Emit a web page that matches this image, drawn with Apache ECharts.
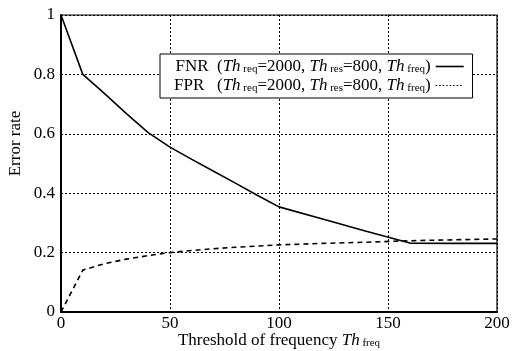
<!DOCTYPE html>
<html>
<head>
<meta charset="utf-8">
<script src="https://cdn.jsdelivr.net/npm/echarts@6/dist/echarts.min.js"></script>
<style>
  html, body { margin: 0; padding: 0; background: #fff; }
  #chart { width: 521px; height: 351px; }
</style>
</head>
<body>
<div id="chart"></div>
<script>
// threshold of frequency (x) and error rates
const thresholds = [0, 10, 20, 30, 40, 50, 60, 70, 80, 90, 100, 120, 140, 160, 180, 200];
const fnrValues = [1.0, 0.8, 0.735, 0.668, 0.604, 0.555, 0.514, 0.474, 0.434, 0.393, 0.354, 0.313, 0.272, 0.232, 0.231, 0.231];
const fprValues = [0.0, 0.141, 0.163, 0.178, 0.19, 0.2, 0.207, 0.213, 0.218, 0.222, 0.226, 0.231, 0.235, 0.24, 0.243, 0.246];
const yTicks = [0, 0.2, 0.4, 0.6, 0.8, 1];

const FONT = '"Liberation Serif", "DejaVu Serif", serif';
const rich = {
  i: { fontFamily: FONT, fontStyle: 'italic', fontSize: 17, color: '#000' },
  s: { fontFamily: FONT, fontSize: 11, color: '#000', padding: [6, 0, 0, 0] },
  n: { fontFamily: FONT, fontSize: 17, color: '#000' }
};

const legendName = (tag) =>
  `{n|${tag}  (}{i|Th}{s| req}{n|=2000, }{i|Th}{s| res}{n|=800, }{i|Th}{s| freq}{n|)}`;

const chart = echarts.init(document.getElementById('chart'), null, { renderer: 'canvas' });

chart.setOption({
  animation: false,
  backgroundColor: '#fff',
  grid: {
    left: 61, right: 24, top: 15, bottom: 39,
    show: true, borderColor: '#000', borderWidth: 1.2,
    containLabel: false,
    outerBoundsMode: 'none'
  },
  legend: {
    left: 160, top: 54,
    orient: 'vertical',
    align: 'right',
    itemWidth: 28, itemHeight: 10, itemGap: 2,
    padding: [4, 8, 4, 14],
    borderColor: '#000', borderWidth: 1,
    backgroundColor: '#fff',
    data: [
      { name: 'FNR', itemStyle: { opacity: 0 }, lineStyle: { type: 'solid', width: 1.6 } },
      { name: 'FPR', itemStyle: { opacity: 0 }, lineStyle: { type: [1.5, 2], width: 1.2 } }
    ],
    formatter: (name) => legendName(name === 'FPR' ? 'FPR ' : 'FNR'),
    textStyle: { rich, fontFamily: FONT, fontSize: 17, color: '#000', padding: [0, 0, 0, 0] }
  },
  xAxis: {
    type: 'value', min: 0, max: 200, interval: 50,
    name: '{n|Threshold of frequency }{i|Th}{s| freq}',
    nameLocation: 'middle', nameGap: 20,
    nameMoveOverlap: false,
    nameTextStyle: { rich },
    axisLine: { lineStyle: { color: '#000', width: 2 } },
    axisTick: { show: false },
    axisLabel: { fontFamily: FONT, fontSize: 17, color: '#000', margin: 3 },
    splitLine: { show: true, lineStyle: { color: '#000', type: [2, 2], width: 1 } }
  },
  yAxis: {
    type: 'value', min: 0, max: 1, interval: 0.2,
    name: 'Error rate',
    nameLocation: 'middle', nameGap: 37,
    nameMoveOverlap: false,
    nameTextStyle: { fontFamily: FONT, fontSize: 17, color: '#000', padding: [0, 0, 0, 40] },
    axisLine: { show: true, lineStyle: { color: '#000', width: 2 } },
    axisTick: { show: false },
    axisLabel: {
      fontFamily: FONT, fontSize: 17, color: '#000', margin: 6,
      formatter: (v) => yTicks.includes(+v.toFixed(1)) ? String(+v.toFixed(1)) : ''
    },
    splitLine: { show: true, lineStyle: { color: '#000', type: [2, 2], width: 1 } }
  },
  series: [
    {
      name: 'FNR', type: 'line', symbol: 'none',
      data: thresholds.map((t, i) => [t, fnrValues[i]]),
      lineStyle: { color: '#000', width: 1.6 },
      itemStyle: { color: '#000' }
    },
    {
      name: 'FPR', type: 'line', symbol: 'none',
      data: thresholds.map((t, i) => [t, fprValues[i]]),
      lineStyle: { color: '#000', width: 1.6, type: [5, 4] },
      itemStyle: { color: '#000' }
    }
  ]
});
</script>
</body>
</html>
